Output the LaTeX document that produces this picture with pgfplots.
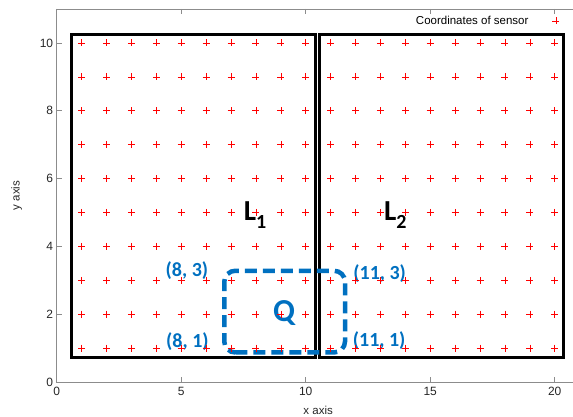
\documentclass[border=0pt]{standalone}
\usepackage{pgfplots}
\pgfplotsset{compat=1.18}
\usepackage{fontspec}
\setmainfont{Liberation Sans}
\newfontfamily\calibri{Carlito}
\definecolor{qblue}{HTML}{0070C0}
\definecolor{sensorred}{HTML}{FF0000}

\begin{document}
\begin{tikzpicture}
\begin{axis}[
  scale only axis,
  width=522.9pt, height=373pt,
  xmin=0, xmax=21, ymin=0, ymax=11,
  xtick={0,5,10,15,20}, ytick={0,2,4,6,8,10},
  tick align=inside,
  major tick length=5pt,
  axis line style={draw=gray!90, line width=0.6pt},
  tick style={draw=gray!90, line width=0.6pt},
  /pgf/number format/assume math mode=true,
  ticklabel style={font=\fontsize{12}{12}\selectfont, text=black!85},
  xticklabel style={yshift=-2pt},
  xlabel={x axis}, ylabel={y axis},
  label style={font=\fontsize{11.5}{11.5}\selectfont, text=black!85},
  xlabel style={yshift=-3pt},
  ylabel style={yshift=11pt},
  legend style={draw=none, fill=none, at={(axis cs:20.2,10.65)}, anchor=east,
    font=\fontsize{11.5}{11.5}\selectfont, inner sep=0pt, column sep=22pt},
  legend plot pos=right,
  legend cell align=right,
  sensor/.style={only marks, mark=+, mark size=3.5pt, color=sensorred,
    mark options={draw=sensorred, solid, line width=0.6pt}},
]
% sensor grid, one row per plot (top row first)
\addplot[sensor] coordinates {(1,10) (2,10) (3,10) (4,10) (5,10) (6,10) (7,10) (8,10) (9,10) (10,10) (11,10) (12,10) (13,10) (14,10) (15,10) (16,10) (17,10) (18,10) (19,10) (20,10)};
\addlegendentry{Coordinates of sensor}
\addplot[sensor, forget plot] coordinates {(1,9) (2,9) (3,9) (4,9) (5,9) (6,9) (7,9) (8,9) (9,9) (10,9) (11,9) (12,9) (13,9) (14,9) (15,9) (16,9) (17,9) (18,9) (19,9) (20,9)};
\addplot[sensor, forget plot] coordinates {(1,8) (2,8) (3,8) (4,8) (5,8) (6,8) (7,8) (8,8) (9,8) (10,8) (11,8) (12,8) (13,8) (14,8) (15,8) (16,8) (17,8) (18,8) (19,8) (20,8)};
\addplot[sensor, forget plot] coordinates {(1,7) (2,7) (3,7) (4,7) (5,7) (6,7) (7,7) (8,7) (9,7) (10,7) (11,7) (12,7) (13,7) (14,7) (15,7) (16,7) (17,7) (18,7) (19,7) (20,7)};
\addplot[sensor, forget plot] coordinates {(1,6) (2,6) (3,6) (4,6) (5,6) (6,6) (7,6) (8,6) (9,6) (10,6) (11,6) (12,6) (13,6) (14,6) (15,6) (16,6) (17,6) (18,6) (19,6) (20,6)};
\addplot[sensor, forget plot] coordinates {(1,5) (2,5) (3,5) (4,5) (5,5) (6,5) (7,5) (8,5) (9,5) (10,5) (11,5) (12,5) (13,5) (14,5) (15,5) (16,5) (17,5) (18,5) (19,5) (20,5)};
\addplot[sensor, forget plot] coordinates {(1,4) (2,4) (3,4) (4,4) (5,4) (6,4) (7,4) (8,4) (9,4) (10,4) (11,4) (12,4) (13,4) (14,4) (15,4) (16,4) (17,4) (18,4) (19,4) (20,4)};
\addplot[sensor, forget plot] coordinates {(1,3) (2,3) (3,3) (4,3) (5,3) (6,3) (7,3) (8,3) (9,3) (10,3) (11,3) (12,3) (13,3) (14,3) (15,3) (16,3) (17,3) (18,3) (19,3) (20,3)};
\addplot[sensor, forget plot] coordinates {(1,2) (2,2) (3,2) (4,2) (5,2) (6,2) (7,2) (8,2) (9,2) (10,2) (11,2) (12,2) (13,2) (14,2) (15,2) (16,2) (17,2) (18,2) (19,2) (20,2)};
\addplot[sensor, forget plot] coordinates {(1,1) (2,1) (3,1) (4,1) (5,1) (6,1) (7,1) (8,1) (9,1) (10,1) (11,1) (12,1) (13,1) (14,1) (15,1) (16,1) (17,1) (18,1) (19,1) (20,1)};

% regions L1 and L2
\addplot[forget plot, black, line width=3pt, mark=none]
coordinates {(0.6,0.73) (10.41,0.73) (10.41,10.26) (0.6,10.26)} -- cycle;
\addplot[forget plot, black, line width=3pt, mark=none]
coordinates {(10.55,0.73) (20.35,0.73) (20.35,10.26) (10.55,10.26)} -- cycle;

% query region Q
\addplot[forget plot, qblue, line width=4.5pt, mark=none, rounded corners=11pt,
  dash pattern=on 12pt off 6pt]
coordinates {(6.73,0.87) (11.58,0.87) (11.58,3.28) (6.73,3.28)} -- cycle;

\node[font=\calibri\bfseries\fontsize{29}{29}\selectfont] at (axis cs:7.97,4.92)
  {L\raisebox{-8pt}{\fontsize{20}{20}\selectfont 1}};
\node[font=\calibri\bfseries\fontsize{29}{29}\selectfont] at (axis cs:13.6,4.92)
  {L\raisebox{-8pt}{\fontsize{20}{20}\selectfont 2}};
\node[font=\calibri\bfseries\fontsize{32}{32}\selectfont, text=qblue] at (axis cs:9.13,2.02) {Q};
\node[font=\calibri\bfseries\fontsize{20}{20}\selectfont, text=qblue] at (axis cs:5.23,3.3) {(8, 3)};
\node[font=\calibri\bfseries\fontsize{20}{20}\selectfont, text=qblue] at (axis cs:5.25,1.2) {(8, 1)};
\node[font=\calibri\bfseries\fontsize{20}{20}\selectfont, text=qblue] at (axis cs:12.97,3.2) {(11, 3)};
\node[font=\calibri\bfseries\fontsize{20}{20}\selectfont, text=qblue] at (axis cs:12.95,1.22) {(11, 1)};

\coordinate (O) at (rel axis cs:0,0);
\end{axis}
% page ends just short of the right frame
\pgfresetboundingbox
\path ([shift={(-56.7pt,-35pt)}]O) rectangle ([shift={(516.3pt,382pt)}]O);
\end{tikzpicture}
\end{document}
